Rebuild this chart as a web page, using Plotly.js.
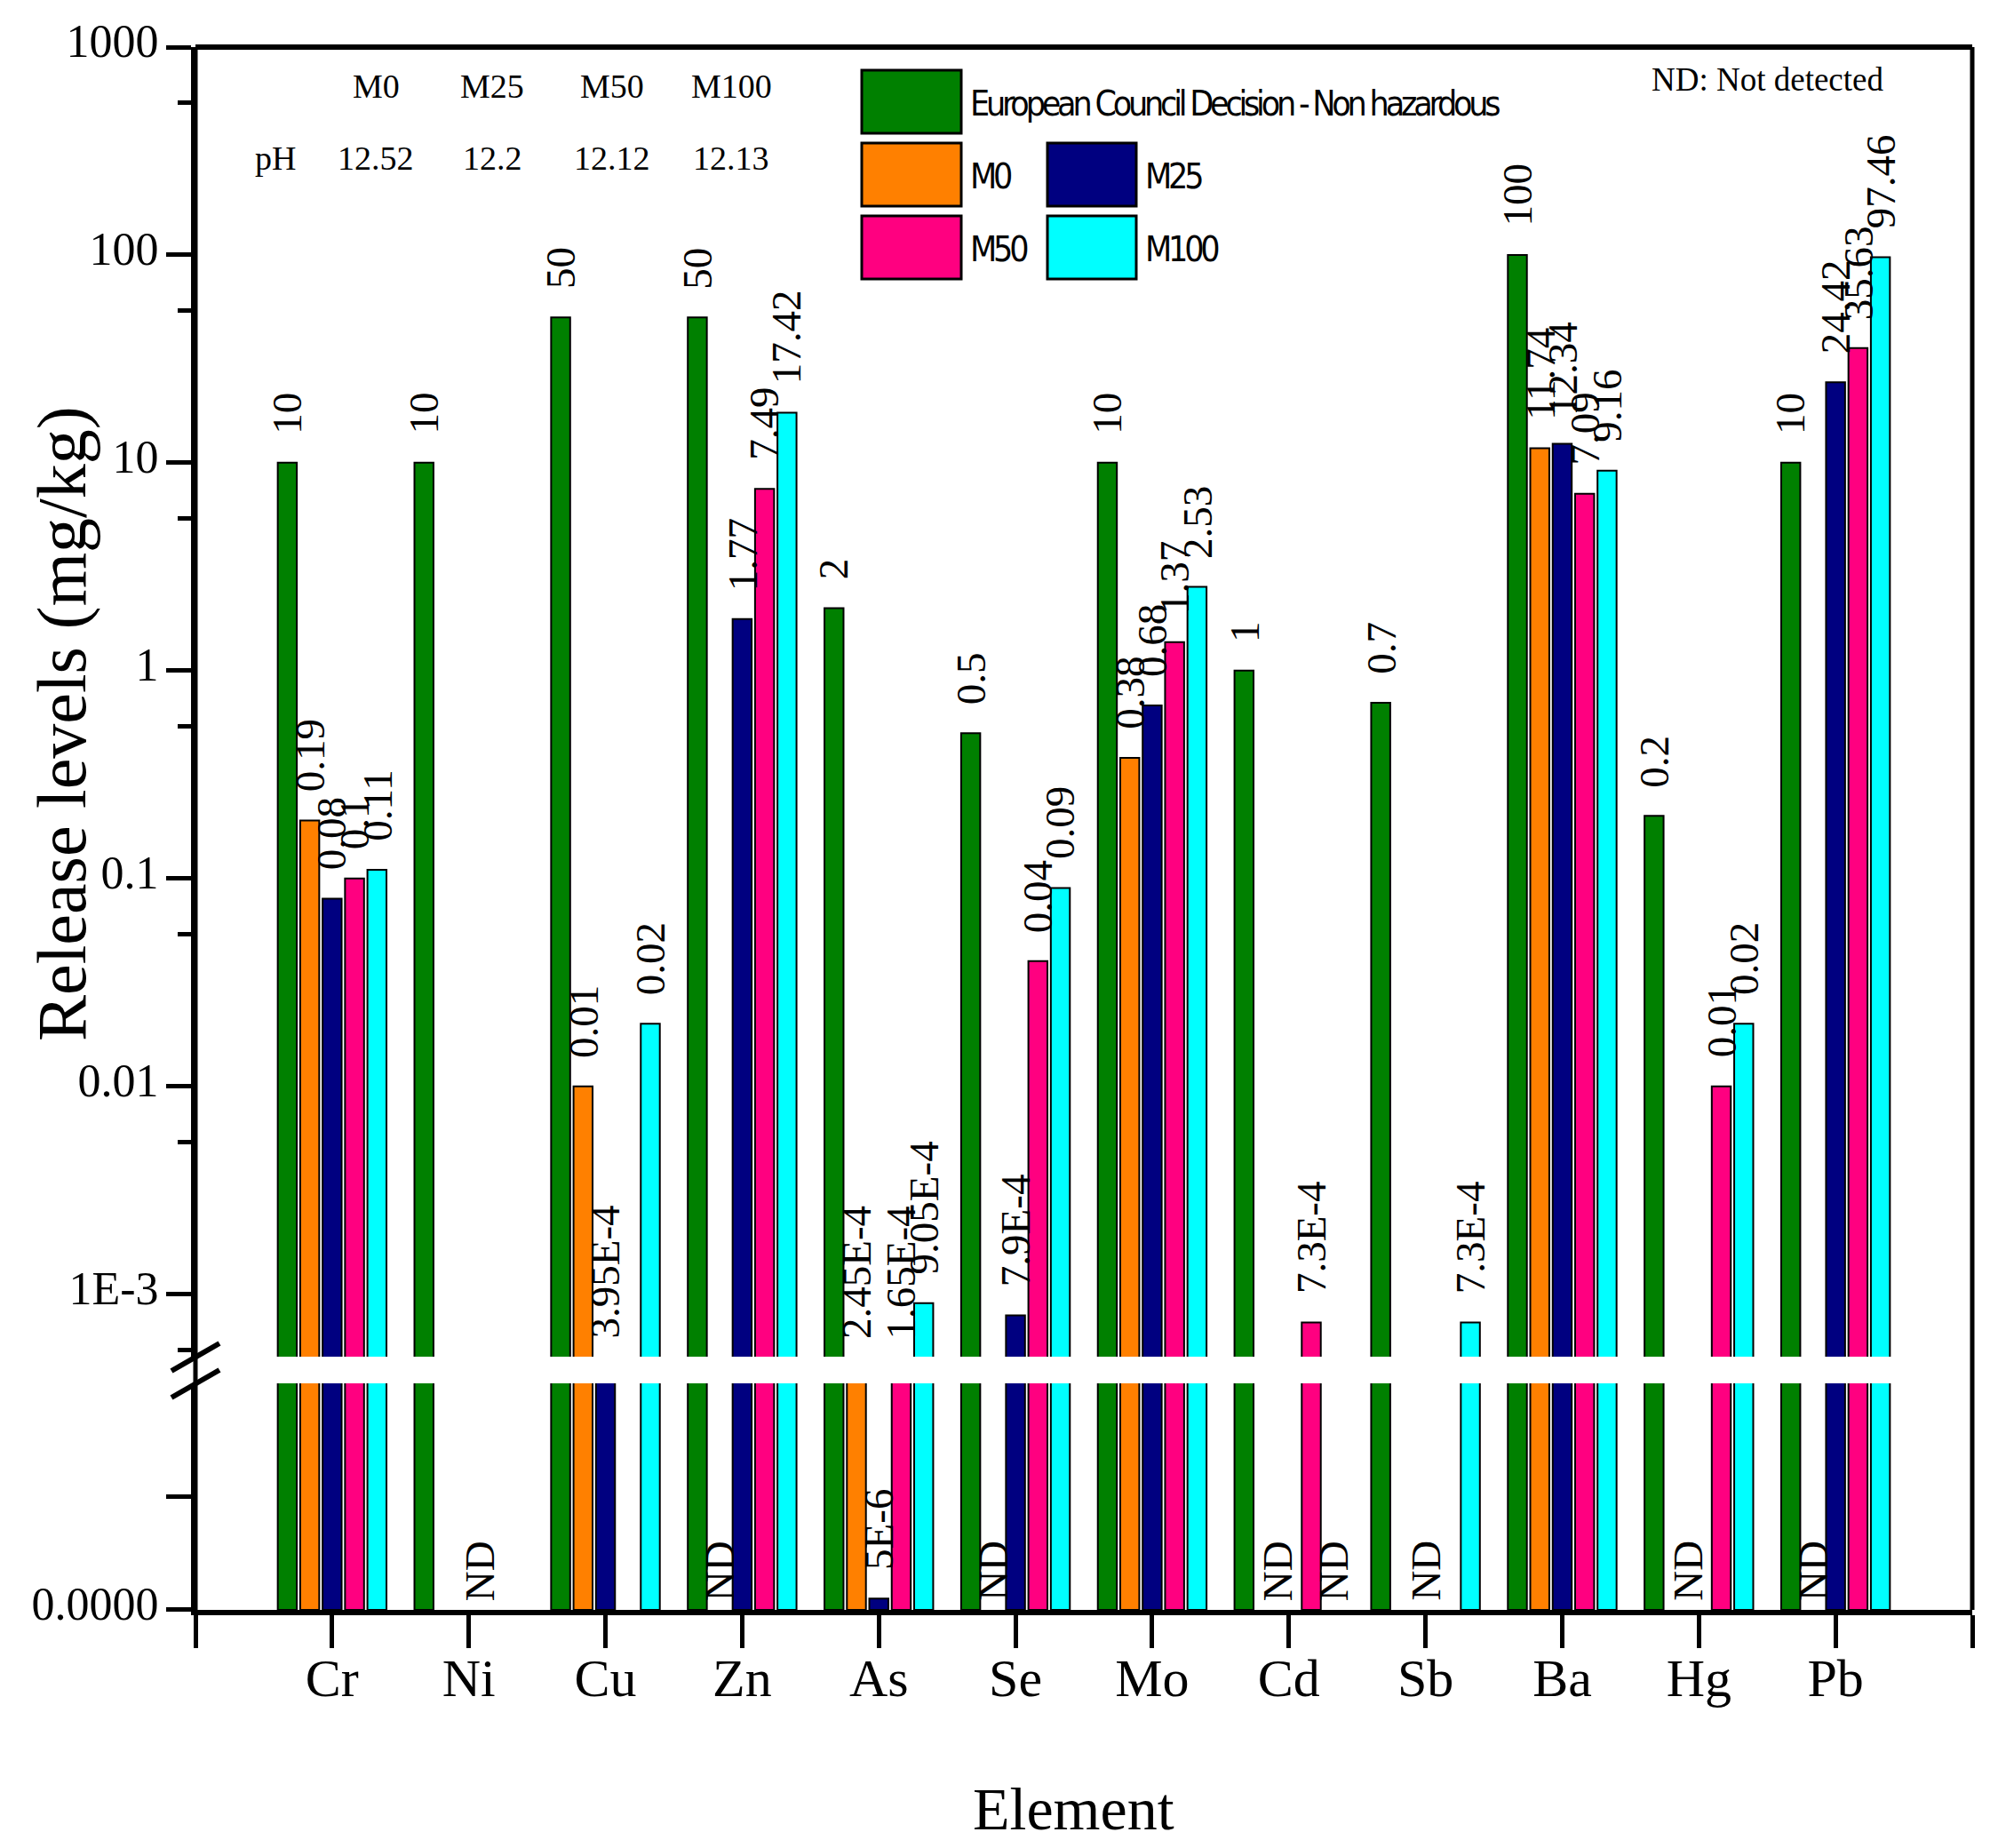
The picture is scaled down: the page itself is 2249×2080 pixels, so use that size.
<!DOCTYPE html>
<html>
<head>
<meta charset="utf-8">
<script src="https://cdn.plot.ly/plotly-3.0.1.min.js"></script>
<style>
  html, body { margin: 0; padding: 0; background: #fff; }
  #chart { width: 2249px; height: 2080px; }
</style>
</head>
<body>
<div id="chart"></div>
<script>
// ── Data ───────────────────────────────────────
const ELEMENTS = ["Cr", "Ni", "Cu", "Zn", "As", "Se", "Mo", "Cd", "Sb", "Ba", "Hg", "Pb"];

const SERIES_NAMES = ["European Council Decision - Non hazardous", "M0", "M25", "M50", "M100"];
const SERIES_COLORS = ["#008000", "#FF8000", "#000080", "#FF0080", "#00FFFF"];

const EC_LIMIT = [10, 10, 50, 50, 2, 0.5, 10, 1, 0.7, 100, 0.2, 10];
const M0_VALUES = [0.19, null, 0.01, null, 2.45e-4, null, 0.38, null, null, 11.74, null, null];
const M25_VALUES = [0.08, null, 3.95e-4, 1.77, 5e-6, 7.9e-4, 0.68, null, null, 12.34, null, 24.42];
const M50_VALUES = [0.1, null, null, 7.49, 1.65e-4, 0.04, 1.37, 7.3e-4, null, 7.09, 0.01, 35.63];
const M100_VALUES = [0.11, null, 0.02, 17.42, 9.05e-4, 0.09, 2.53, null, 7.3e-4, 9.16, 0.02, 97.46];

// "ND" labels: element and the mixes that were not detected there
const ND_ELEMENTS = ["Ni", "Zn", "Se", "Cd", "Cd", "Sb", "Hg", "Pb"];
const ND_SERIES = [
  ["M0", "M25", "M50", "M100"],
  ["M0"],
  ["M0"],
  ["M0", "M25"],
  ["M100"],
  ["M0", "M25", "M50"],
  ["M0", "M25"],
  ["M0"],
];

// pH table in the top-left corner
const PH_MIXES = ["M0", "M25", "M50", "M100"];
const PH_VALUES = ["12.52", "12.2", "12.12", "12.13"];

// axis ticks
const UPPER_TICKS = [1e-3, 0.01, 0.1, 1, 10, 100, 1000];
const UPPER_TICK_TEXT = ["1E-3", "0.01", "0.1", "1", "10", "100", "1000"];
const UPPER_MINOR = [5.4e-4, 5.4e-3, 5.4e-2, 0.54, 5.4, 54, 540];
const LOWER_TICKS = [0, 5e-5];
const LOWER_TICK_TEXT = ["0.0000", ""];

// ── Layout constants ──────────────────────────
const W = 2249, H = 2080;
const M = { l: 220, r: 29, t: 53, b: 268 };
const PW = W - M.l - M.r;
const PH = H - M.t - M.b;
const UPPER_MIN = 5e-4;      // bottom of the log segment
const LOWER_MAX = 1e-4;      // top of the linear segment
const UPPER_DOMAIN = [0.162, 1];
const LOWER_DOMAIN = [0, 0.145];
const BARGAP = 0.18;
const BARGROUPGAP = 0.15;

const SERIF = "Liberation Serif, Times New Roman, serif";
const NARROW = "DejaVu Sans Condensed, Liberation Sans Narrow, sans-serif";

const px = (x) => (x - M.l) / PW;
const py = (y) => (M.t + PH - y) / PH;

const SERIES_VALUES = [EC_LIMIT, M0_VALUES, M25_VALUES, M50_VALUES, M100_VALUES];
const nSeries = SERIES_VALUES.length;
const xIdx = ELEMENTS.map((_, i) => i);
const slotOffset = (j) => (j - (nSeries - 1) / 2) * (1 - BARGAP) / nSeries;

function fmt(v) {
  if (v >= 1e-3) return String(v);
  const e = Math.floor(Math.log10(v) + 1e-9);
  const m = +(v / Math.pow(10, e)).toFixed(2);
  return m + "E" + e;
}

// ── Traces: same data on both segments ────────
const traces = [];
SERIES_VALUES.forEach((vals, j) => {
  const common = {
    type: "bar",
    name: SERIES_NAMES[j],
    x: xIdx,
    marker: { color: SERIES_COLORS[j], line: { color: "#000", width: 2 } },
    hoverinfo: "skip",
    showlegend: false,
  };
  traces.push({ ...common, y: vals, xaxis: "x", yaxis: "y2" });
  traces.push({
    ...common,
    y: vals.map((v) => (v == null ? null : Math.min(v, LOWER_MAX * 1.05))),
    xaxis: "x",
    yaxis: "y",
  });
});

// ── Value labels ──────────────────────────────
const annotations = [];
const labelFont = { family: SERIF, size: 47, color: "#000" };

SERIES_VALUES.forEach((vals, j) => {
  vals.forEach((v, i) => {
    if (v == null) return;
    const a = {
      x: i + slotOffset(j),
      xref: "x",
      text: fmt(v),
      textangle: -90,
      showarrow: false,
      xanchor: "center",
      yanchor: "bottom",
      font: labelFont,
    };
    if (v < LOWER_MAX) {
      Object.assign(a, { yref: "y", y: v, yshift: 30 });
    } else if (v < UPPER_MIN) {
      Object.assign(a, { yref: "y2", y: Math.log10(UPPER_MIN), yshift: 18 });
    } else {
      Object.assign(a, { yref: "y2", y: Math.log10(v), yshift: 30 });
    }
    annotations.push(a);
  });
});

ND_ELEMENTS.forEach((el, k) => {
  const slots = ND_SERIES[k].map((s) => slotOffset(SERIES_NAMES.indexOf(s)));
  const off = slots.reduce((s, o) => s + o, 0) / slots.length;
  annotations.push({
    x: ELEMENTS.indexOf(el) + off,
    xref: "x",
    y: 0,
    yref: "y",
    yshift: 8,
    text: "ND",
    textangle: -90,
    showarrow: false,
    xanchor: "center",
    yanchor: "bottom",
    font: labelFont,
  });
});

// pH table
const tableFont = { family: SERIF, size: 38, color: "#000" };
const TABLE_X = [423, 554, 689, 823];
PH_MIXES.forEach((m, k) => {
  annotations.push({ x: px(TABLE_X[k]), y: py(97), xref: "paper", yref: "paper", text: m,
    showarrow: false, xanchor: "center", yanchor: "middle", font: tableFont });
  annotations.push({ x: px(TABLE_X[k]), y: py(178), xref: "paper", yref: "paper", text: PH_VALUES[k],
    showarrow: false, xanchor: "center", yanchor: "middle", font: tableFont });
});
annotations.push({ x: px(310), y: py(178), xref: "paper", yref: "paper", text: "pH",
  showarrow: false, xanchor: "center", yanchor: "middle", font: tableFont });

annotations.push({ x: px(1857), y: py(90), xref: "paper", yref: "paper", text: "ND: Not detected",
  showarrow: false, xanchor: "left", yanchor: "middle", font: { family: SERIF, size: 37, color: "#000" } });

// axis titles
annotations.push({ x: px(69), y: py(815), xref: "paper", yref: "paper", text: "Release levels (mg/kg)",
  textangle: -90, showarrow: false, xanchor: "center", yanchor: "middle",
  font: { family: SERIF, size: 78, color: "#000" } });
annotations.push({ x: px(1208), y: py(2036), xref: "paper", yref: "paper", text: "Element",
  showarrow: false, xanchor: "center", yanchor: "middle",
  font: { family: SERIF, size: 68, color: "#000" } });

// ── Legend (drawn as boxes + text) ────────────
const LEG_COL_X = [970, 1179];
const LEG_COL_W = [112, 100];
const LEG_ROW_Y = [79, 161, 243];
const LEG_BOX_H = 71;
const LEG_POS = [[0, 0], [0, 1], [1, 1], [0, 2], [1, 2]];

const shapes = [];
SERIES_NAMES.forEach((name, j) => {
  const [c, r] = LEG_POS[j];
  const x0 = LEG_COL_X[c], x1 = x0 + LEG_COL_W[c];
  const y0 = LEG_ROW_Y[r], y1 = y0 + LEG_BOX_H;
  shapes.push({ type: "rect", xref: "paper", yref: "paper",
    x0: px(x0), x1: px(x1), y0: py(y1), y1: py(y0),
    fillcolor: SERIES_COLORS[j], line: { color: "#000", width: 3 } });
  annotations.push({ x: px(x1 + 8), y: py((y0 + y1) / 2 + 2), xref: "paper", yref: "paper",
    text: '<span style="letter-spacing:-4.2px">' + name + "</span>",
    showarrow: false, xanchor: "left", yanchor: "middle",
    font: { family: NARROW, size: 39, color: "#000" } });
});

// frame: left (continuous through the break), top, right
const frame = { color: "#000", width: 5 };
shapes.push({ type: "line", xref: "paper", yref: "paper", x0: 0, x1: 0, y0: 0, y1: 1, line: frame });
shapes.push({ type: "line", xref: "paper", yref: "paper", x0: 0, x1: 1, y0: 1, y1: 1, line: { color: "#000", width: 6 } });
shapes.push({ type: "line", xref: "paper", yref: "paper", x0: 1, x1: 1, y0: 0, y1: 1, line: frame });

// axis break marks
[[1543, 1512], [1573, 1542]].forEach(([ya, yb]) => {
  shapes.push({ type: "line", xref: "paper", yref: "paper",
    x0: px(193), y0: py(ya), x1: px(247), y1: py(yb), line: { color: "#000", width: 6 } });
});

// ── Layout ────────────────────────────────────
const yTickCommon = {
  tickmode: "array",
  ticks: "outside",
  ticklen: 28,
  tickwidth: 5,
  tickcolor: "#000",
  ticklabelstandoff: -2,
  ticklabelshift: -7,
  tickfont: { family: SERIF, size: 52, color: "#000" },
  showline: true,
  linecolor: "#000",
  linewidth: 5,
  showgrid: false,
  zeroline: false,
  anchor: "x",
  fixedrange: true,
};

const layout = {
  width: W,
  height: H,
  margin: M,
  paper_bgcolor: "#fff",
  plot_bgcolor: "rgba(0,0,0,0)",
  barmode: "group",
  bargap: BARGAP,
  bargroupgap: BARGROUPGAP,
  showlegend: false,
  font: { family: SERIF, color: "#000" },
  xaxis: {
    type: "linear",
    range: [-1, ELEMENTS.length],
    tickmode: "array",
    tickvals: [-1, ...xIdx, ELEMENTS.length],
    ticktext: ["", ...ELEMENTS, ""],
    ticks: "outside",
    ticklen: 37,
    tickwidth: 5,
    tickcolor: "#000",
    ticklabelstandoff: -18,
    tickfont: { family: SERIF, size: 60, color: "#000" },
    showline: true,
    linecolor: "#000",
    linewidth: 6,
    showgrid: false,
    zeroline: false,
    anchor: "y",
    fixedrange: true,
  },
  yaxis: {
    ...yTickCommon,
    domain: LOWER_DOMAIN,
    type: "linear",
    range: [0, LOWER_MAX],
    tickvals: LOWER_TICKS,
    ticktext: LOWER_TICK_TEXT,
  },
  yaxis2: {
    ...yTickCommon,
    domain: UPPER_DOMAIN,
    type: "log",
    range: [Math.log10(UPPER_MIN), 3],
    tickvals: UPPER_TICKS,
    ticktext: UPPER_TICK_TEXT,
    minor: {
      tickmode: "array",
      tickvals: UPPER_MINOR,
      ticks: "outside",
      ticklen: 15,
      tickwidth: 5,
      tickcolor: "#000",
      showgrid: false,
    },
  },
  shapes: shapes,
  annotations: annotations,
};

Plotly.newPlot("chart", traces, layout, { displayModeBar: false, staticPlot: true });
</script>
</body>
</html>
